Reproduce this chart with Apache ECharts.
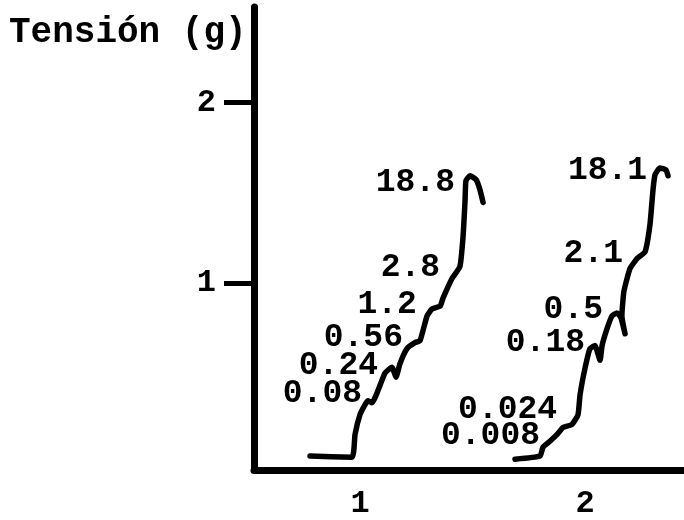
<!DOCTYPE html>
<html>
<head>
<meta charset="utf-8">
<script src="https://cdn.jsdelivr.net/npm/echarts@6/dist/echarts.min.js"></script>
<style>html,body{margin:0;padding:0;background:#fff;overflow:hidden}#c{width:684px;height:520px}</style>
</head>
<body>
<div id="c"></div>
<script>
// Trace 1 (x in axis units, y = tension in g)
const trace1X = [0.778, 0.964, 0.978, 1.000, 1.022, 1.036, 1.053, 1.111, 1.142, 1.160, 1.178, 1.209, 1.244, 1.267, 1.298, 1.320, 1.356, 1.369, 1.409, 1.444, 1.458, 1.467, 1.471, 1.489, 1.516, 1.533, 1.547];
const trace1Y = [0.044, 0.038, 0.164, 0.273, 0.328, 0.350, 0.339, 0.503, 0.536, 0.481, 0.557, 0.639, 0.672, 0.683, 0.820, 0.858, 0.874, 0.918, 1.027, 1.093, 1.257, 1.459, 1.568, 1.596, 1.574, 1.519, 1.448];
// Trace 2
const trace2X = [1.689, 1.800, 1.813, 1.844, 1.876, 1.902, 1.942, 1.969, 1.978, 2.000, 2.022, 2.044, 2.067, 2.076, 2.098, 2.120, 2.142, 2.160, 2.178, 2.164, 2.173, 2.200, 2.231, 2.267, 2.289, 2.302, 2.311, 2.333, 2.360, 2.369];
const trace2Y = [0.027, 0.044, 0.093, 0.126, 0.164, 0.202, 0.219, 0.273, 0.383, 0.530, 0.639, 0.656, 0.574, 0.656, 0.749, 0.820, 0.836, 0.809, 0.721, 0.820, 0.956, 1.082, 1.137, 1.175, 1.328, 1.514, 1.601, 1.639, 1.628, 1.596];
// Concentration annotations (text, and its right-end anchor in axis units)
const notes1Text = ['0.08', '0.24', '0.56', '1.2', '2.8', '18.8'];
const notes1X = [1.009, 1.080, 1.191, 1.253, 1.356, 1.422];
const notes1Y = [0.388, 0.546, 0.699, 0.880, 1.087, 1.557];
const notes2Text = ['0.008', '0.024', '0.18', '0.5', '2.1', '18.1'];
const notes2X = [1.800, 1.876, 2.000, 2.080, 2.169, 2.276];
const notes2Y = [0.158, 0.301, 0.672, 0.852, 1.164, 1.623];
// Axis ticks
const yTicks = [1, 2];
const xTicks = [1, 2];
const yTitle = 'Tensión (g)';

const zip = (a, b) => a.map((v, i) => [v, b[i]]);
const noteData = (t, x, y) => t.map((s, i) => ({ value: [x[i], y[i]], name: s }));

const FONT = 'Liberation Mono';
const chart = echarts.init(document.getElementById('c'), null, { renderer: 'canvas' });
const lineSeries = (d) => ({
  type: 'line', data: d, showSymbol: false, symbol: 'none', smooth: 0.15,
  lineStyle: { color: '#000', width: 5.5, cap: 'round', join: 'round', opacity: 1 },
  animation: false, silent: true
});
const noteSeries = (d) => ({
  type: 'scatter', data: d, symbolSize: 0, animation: false, silent: true,
  itemStyle: { opacity: 1, color: '#000' },
  label: {
    show: true, position: 'left', distance: 0, formatter: p => p.name,
    color: '#000', opacity: 1, textBorderWidth: 0,
    fontFamily: FONT, fontWeight: 'bold', fontSize: 33
  }
});
chart.setOption({
  backgroundColor: '#fff',
  animation: false,
  title: {
    text: yTitle, left: 4, top: 10,
    textStyle: { color: '#000', fontFamily: FONT, fontWeight: 'bold', fontSize: 36 }
  },
  grid: { left: 254, right: 0, top: 7, bottom: 44, containLabel: false },
  xAxis: {
    type: 'value', min: 0.529, max: 2.44,
    axisLine: { show: true, onZero: false, lineStyle: { color: '#000', width: 7 } },
    axisTick: { show: false },
    splitLine: { show: false },
    axisLabel: {
      customValues: xTicks, margin: 18,
      color: '#000', fontFamily: FONT, fontWeight: 'bold', fontSize: 32
    }
  },
  yAxis: {
    type: 'value', min: -0.033, max: 2.53,
    axisLine: { show: true, onZero: false, lineStyle: { color: '#000', width: 7 } },
    axisTick: { show: true, customValues: yTicks, length: 30, lineStyle: { color: '#000', width: 5 } },
    splitLine: { show: false },
    axisLabel: {
      customValues: yTicks, margin: 38,
      color: '#000', fontFamily: FONT, fontWeight: 'bold', fontSize: 32
    }
  },
  series: [
    lineSeries(zip(trace1X, trace1Y)),
    lineSeries(zip(trace2X, trace2Y)),
    noteSeries(noteData(notes1Text, notes1X, notes1Y)),
    noteSeries(noteData(notes2Text, notes2X, notes2Y))
  ]
});
</script>
</body>
</html>
